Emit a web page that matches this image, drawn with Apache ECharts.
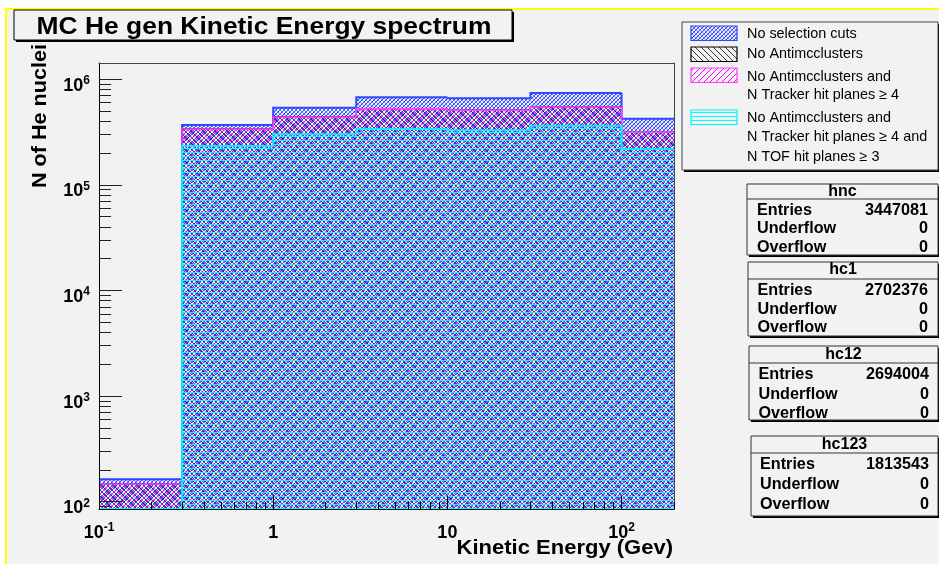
<!DOCTYPE html>
<html><head><meta charset="utf-8">
<script src="https://cdn.jsdelivr.net/npm/echarts@6/dist/echarts.min.js"></script>
<style>html,body{margin:0;padding:0;background:#fff;}#c{width:939px;height:564px;}</style>
</head><body><div id="c"></div>
<script>
// ---------- data ----------
const binEdges = [0.1, 0.3, 1, 3, 10, 30, 100, 200];
const hnc   = [163, 369000, 538000, 676000, 661000, 742000, 424000];
const hc1   = [148, 340000, 442000, 526000, 511000, 549000, 316000];
const hc12  = [147, 338000, 440000, 524000, 509000, 547000, 315000];
const hc123 = [0, 233000, 301000, 338000, 329000, 364000, 219000];
const seriesNames = ['No selection cuts', 'No Antimcclusters',
  'No Antimcclusters and\nN Tracker hit planes \u2265 4',
  'No Antimcclusters and\nN Tracker hit planes \u2265 4 and\nN TOF hit planes \u2265 3'];
const xMajorTicks = [0.1, 1, 10, 100];
const xTickLabels = [['10', '-1'], ['1', ''], ['10', ''], ['10', '2']];
const yMajorTicks = [1e2, 1e3, 1e4, 1e5, 1e6];
const yTickLabels = [['10', '2'], ['10', '3'], ['10', '4'], ['10', '5'], ['10', '6']];
const statNames = ['hnc', 'hc1', 'hc12', 'hc123'];
const statEntries = [3447081, 2702376, 2694004, 1813543];
const statUnderflow = [0, 0, 0, 0];
const statOverflow = [0, 0, 0, 0];
const titleText = 'MC He gen Kinetic Energy spectrum';
const xTitle = 'Kinetic Energy (Gev)';
const yTitle = 'N of He nuclei';
const xMin = 0.1, xMax = 200, yMin = 85.3, yMax = 1.426e6;

// ---------- helpers ----------
const FONT = '"Liberation Sans", Arial, Helvetica, sans-serif';
const L = Math.log10;
const xMinLog = L(xMin), xMaxLog = L(xMax), yMinLog = L(yMin), yMaxLog = L(yMax);

function minorTicks(lo, hi) {
  const out = [];
  for (let n = -2; n <= 7; n++) for (let k = 2; k <= 9; k++) {
    const v = k * Math.pow(10, n);
    if (v >= lo && v <= hi) out.push(L(v));
  }
  return out;
}
function tile(w, h, layers) {
  const c = document.createElement('canvas');
  c.width = w; c.height = h;
  const ctx = c.getContext('2d');
  layers.forEach(ly => {
    ctx.fillStyle = ly[0];
    ly[1].forEach(p => ctx.fillRect(p[0], p[1], 1, 1));
  });
  return { image: c, repeat: 'repeat' };
}
const diagDown = [], diagUp = [];
for (let i = 0; i < 6; i++) { diagDown.push([i, i]); diagUp.push([5 - i, i]); }
const patBlue = tile(4, 4, [
  ['#2238ff', [[1, 0], [0, 1], [3, 2], [2, 3]]],
  ['#8090ff', [[2, 0], [0, 2], [3, 1], [1, 3]]],
  ['#e8ecff', [[3, 0], [1, 2]]]
]);
const patBlack = tile(6, 6, [['#3a3a3a', diagDown]]);
const patMag = tile(6, 6, [['#ff00ff', diagUp]]);
const patCyan = tile(4, 4, [['#00ffff', [[0, 0], [1, 0], [2, 0], [3, 0]]]]);

function histData(vals) {
  return vals.map((v, i) => {
    const cur = L(Math.max(v, yMin));
    const prev = i === 0 ? yMinLog : L(Math.max(vals[i - 1], yMin));
    return [L(binEdges[i]), L(binEdges[i + 1]), cur, prev];
  });
}
function makeRender(fill, stroke, lw) {
  return function (params, api) {
    const x0 = api.value(0), x1 = api.value(1), y = api.value(2), yp = api.value(3);
    const bl = api.coord([x0, yMinLog]);
    const tr = api.coord([x1, y]);
    const pv = api.coord([x0, yp]);
    return {
      type: 'group', children: [
        { type: 'rect', shape: { x: bl[0], y: tr[1], width: tr[0] - bl[0], height: bl[1] - tr[1] }, style: { fill: fill } },
        { type: 'polyline', shape: { points: [pv, [bl[0], tr[1]], tr] }, style: { stroke: stroke, lineWidth: lw, fill: null } }
      ]
    };
  };
}
const hists = [
  { vals: hnc, fill: patBlue, stroke: '#2a48ff', lw: 2 },
  { vals: hc1, fill: patBlack, stroke: '#000000', lw: 1 },
  { vals: hc12, fill: patMag, stroke: '#ff40ff', lw: 1.6 },
  { vals: hc123, fill: patCyan, stroke: '#00f0ff', lw: 2 }
];
const series = hists.map((h, k) => ({
  type: 'custom', name: seriesNames[k], xAxisIndex: 0, yAxisIndex: 0, z: 2,
  data: histData(h.vals), encode: { x: [0, 1], y: [2, 3] },
  renderItem: makeRender(h.fill, h.stroke, h.lw), silent: true, animation: false, clip: true
}));

function nearest(arr, v) { let b = 0; arr.forEach((a, i) => { if (Math.abs(a - v) < Math.abs(arr[b] - v)) b = i; }); return b; }
const richLbl = {
  b: { fontFamily: FONT, fontSize: 18, fontWeight: 'bold', color: '#000', lineHeight: 20, verticalAlign: 'bottom' },
  s: { fontFamily: FONT, fontSize: 12, fontWeight: 'bold', color: '#000', lineHeight: 4, verticalAlign: 'top' }
};
function lblFmt(ticks, labels) {
  const lt = ticks.map(L);
  return v => { const p = labels[nearest(lt, v)]; return '{b|' + p[0] + '}' + (p[1] ? '{s|' + p[1] + '}' : ''); };
}
const noSplit = { show: false };
const gridBox = { left: 99, right: 265, top: 63, bottom: 55 };

// ---------- graphics (boxes) ----------
const g = [];
g.push({ type: 'rect', z: -5, shape: { x: 6, y: 9, width: 945, height: 565 }, style: { fill: '#f2f2f2', stroke: '#ffff00', lineWidth: 2 } });
// title
g.push({ type: 'rect', z: 20, shape: { x: 16, y: 12, width: 498, height: 30 }, style: { fill: '#000' } });
g.push({ type: 'rect', z: 20, shape: { x: 14, y: 10, width: 498, height: 30 }, style: { fill: '#f2f2f2', stroke: '#000', lineWidth: 1 } });
g.push({ type: 'text', z: 21, x: 264, y: 27, scaleX: 1.1, style: { text: titleText, fontFamily: FONT, fontSize: 24, fontWeight: 'bold', fill: '#000', align: 'center', verticalAlign: 'middle' } });
// axis titles
g.push({ type: 'text', z: 21, x: 673, y: 548, scaleX: 1.1, style: { text: xTitle, fontFamily: FONT, fontSize: 20, fontWeight: 'bold', fill: '#000', align: 'right', verticalAlign: 'middle' } });
g.push({ type: 'text', z: 21, x: 40, y: 188, rotation: Math.PI / 2, scaleX: 1.08, style: { text: yTitle, fontFamily: FONT, fontSize: 20, fontWeight: 'bold', fill: '#000', align: 'left', verticalAlign: 'middle' } });
// legend
g.push({ type: 'rect', z: 20, shape: { x: 684, y: 24, width: 256, height: 148 }, style: { fill: '#000' } });
g.push({ type: 'rect', z: 20, shape: { x: 682, y: 22, width: 256, height: 148 }, style: { fill: '#f2f2f2', stroke: '#444', lineWidth: 1 } });
const swY = [26, 47, 68, 110];
const lineY = [[34.3], [54.3], [76.7, 95], [118.3, 137.3, 157.3]];
hists.forEach((h, k) => {
  g.push({ type: 'rect', z: 21, shape: { x: 691, y: swY[k], width: 46, height: 14.5 }, style: { fill: h.fill, stroke: h.stroke, lineWidth: 1.2 } });
  seriesNames[k].split('\n').forEach((t, j) => {
    g.push({ type: 'text', z: 21, x: 747, y: lineY[k][j], style: { text: t, fontFamily: FONT, fontSize: 14.4, fill: '#000', align: 'left', verticalAlign: 'middle' } });
  });
});
// stats boxes
const sb = [
  { x: 747, top: 184, head: 199, bot: 255, hy: 192, rows: [210.7, 229, 247.3], lx: 757, rx: 928 },
  { x: 748, top: 262, head: 279, bot: 336, hy: 270, rows: [291, 309.7, 327.7], lx: 757.5, rx: 928 },
  { x: 749, top: 346, head: 363, bot: 420, hy: 355, rows: [375, 395, 413.3], lx: 758.5, rx: 929 },
  { x: 751, top: 436, head: 453, bot: 516, hy: 444.3, rows: [465, 485, 505], lx: 760, rx: 929 }
];
sb.forEach((b, k) => {
  const w = 938 - b.x, h = b.bot - b.top;
  g.push({ type: 'rect', z: 20, shape: { x: b.x + 2, y: b.top + 2, width: w, height: h }, style: { fill: '#000' } });
  g.push({ type: 'rect', z: 20, shape: { x: b.x, y: b.top, width: w, height: h }, style: { fill: '#f2f2f2', stroke: '#333', lineWidth: 1 } });
  g.push({ type: 'line', z: 21, shape: { x1: b.x, y1: b.head, x2: b.x + w, y2: b.head }, style: { stroke: '#333', lineWidth: 1 } });
  g.push({ type: 'text', z: 21, x: b.x + w / 2, y: b.hy, style: { text: statNames[k], fontFamily: FONT, fontSize: 16, fontWeight: 'bold', fill: '#000', align: 'center', verticalAlign: 'middle' } });
  const labs = ['Entries', 'Underflow', 'Overflow'];
  const vals = [statEntries[k], statUnderflow[k], statOverflow[k]];
  labs.forEach((t, j) => {
    g.push({ type: 'text', z: 21, x: b.lx, y: b.rows[j], style: { text: t, fontFamily: FONT, fontSize: 16.2, fontWeight: 'bold', fill: '#000', align: 'left', verticalAlign: 'middle' } });
    g.push({ type: 'text', z: 21, x: b.rx, y: b.rows[j], style: { text: String(vals[j]), fontFamily: FONT, fontSize: 16.2, fontWeight: 'bold', fill: '#000', align: 'right', verticalAlign: 'middle' } });
  });
});

// ---------- option ----------
const option = {
  backgroundColor: '#ffffff',
  animation: false,
  grid: [Object.assign({ show: false }, gridBox), Object.assign({ show: false }, gridBox)],
  xAxis: [
    { type: 'value', gridIndex: 0, position: 'bottom', min: xMinLog, max: xMaxLog, z: 5,
      axisLine: { show: true, onZero: false, lineStyle: { color: '#000', width: 1 } },
      axisTick: { show: true, inside: true, length: 13, customValues: xMajorTicks.map(L), lineStyle: { color: '#000', width: 1 } },
      axisLabel: { show: true, customValues: xMajorTicks.map(L), margin: 13, formatter: lblFmt(xMajorTicks, xTickLabels), rich: richLbl },
      splitLine: noSplit },
    { type: 'value', gridIndex: 0, position: 'top', min: xMinLog, max: xMaxLog, z: 5,
      axisLine: { show: true, onZero: false, lineStyle: { color: '#444', width: 1 } }, axisTick: { show: false }, axisLabel: { show: false }, splitLine: noSplit },
    { type: 'value', gridIndex: 1, position: 'bottom', min: xMinLog, max: xMaxLog, z: 5,
      axisLine: { show: false, onZero: false },
      axisTick: { show: true, inside: true, length: 7, customValues: minorTicks(xMin, xMax), lineStyle: { color: '#000', width: 1 } },
      axisLabel: { show: false }, splitLine: noSplit }
  ],
  yAxis: [
    { type: 'value', gridIndex: 0, position: 'left', min: yMinLog, max: yMaxLog, z: 5,
      axisLine: { show: true, onZero: false, lineStyle: { color: '#000', width: 1 } },
      axisTick: { show: true, inside: true, length: 23, customValues: yMajorTicks.map(L), lineStyle: { color: '#222', width: 1 } },
      axisLabel: { show: true, customValues: yMajorTicks.map(L), margin: 9, padding: [11, 0, 0, 0], formatter: lblFmt(yMajorTicks, yTickLabels), rich: richLbl },
      splitLine: noSplit },
    { type: 'value', gridIndex: 0, position: 'right', min: yMinLog, max: yMaxLog, z: 5,
      axisLine: { show: true, onZero: false, lineStyle: { color: '#444', width: 1 } }, axisTick: { show: false }, axisLabel: { show: false }, splitLine: noSplit },
    { type: 'value', gridIndex: 1, position: 'left', min: yMinLog, max: yMaxLog, z: 5,
      axisLine: { show: false, onZero: false },
      axisTick: { show: true, inside: true, length: 12, customValues: minorTicks(yMin, yMax), lineStyle: { color: '#222', width: 1 } },
      axisLabel: { show: false }, splitLine: noSplit }
  ],
  series: series,
  graphic: { elements: g }
};
const chart = echarts.init(document.getElementById('c'));
chart.setOption(option);
</script>
</body></html>
